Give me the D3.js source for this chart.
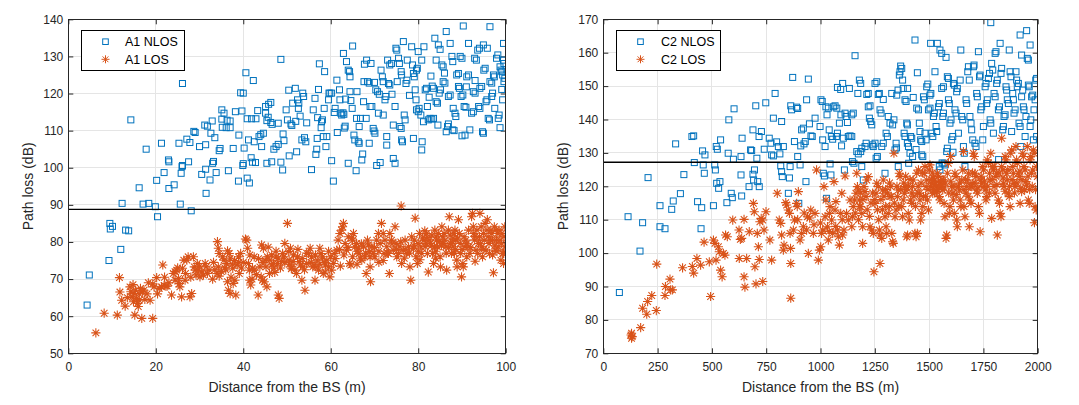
<!DOCTYPE html>
<html><head><meta charset="utf-8">
<script src="https://cdn.jsdelivr.net/npm/d3@7"></script>
<style>body{margin:0;background:#fff}svg{display:block}text{font-family:"Liberation Sans",Arial,sans-serif}</style>
</head><body><svg id="c" width="1079" height="405"></svg>
<script>
// ---------- data ----------
const a1XTicks=[0,20,40,60,80,100];
const a1YTicks=[50,60,70,80,90,100,110,120,130,140];
const c2XTicks=[0,250,500,750,1000,1250,1500,1750,2000];
const c2YTicks=[70,80,90,100,110,120,130,140,150,160,170];
const a1Threshold=88.8, c2Threshold=127.2;
const a1Labels=["A1 NLOS","A1 LOS"], c2Labels=["C2 NLOS","C2 LOS"];

const a1Nlos=[[4.3,63.0],[4.8,71.1],[9.3,75.0],[9.5,85.0],[9.6,83.5],[10.1,84.2],[13.1,83.2],[13.8,83.0],[12.0,78.0],[12.3,90.4],[14.3,112.9],[16.2,94.6],[17.8,105.0],[17.1,90.2],[18.4,90.4],[19.9,89.5],[20.4,86.8],[20.2,96.6],[21.3,106.6],[21.9,98.7],[22.9,102.1],[23.0,101.6],[23.0,94.4],[24.2,95.4],[25.3,106.6],[25.6,90.2],[25.8,98.5],[26.0,100.3],[26.1,100.6],[26.1,122.7],[27.1,107.7],[27.5,101.6],[27.8,106.8],[28.1,88.4],[28.7,109.8],[29.0,109.5],[30.5,98.2],[30.0,105.7],[31.4,99.6],[31.5,93.1],[31.2,111.5],[31.8,111.2],[31.4,106.2],[32.4,96.7],[32.6,109.3],[32.9,112.6],[33.0,101.2],[33.2,101.7],[33.5,108.1],[33.8,98.7],[34.5,104.6],[34.7,105.2],[35.1,113.1],[35.2,110.9],[35.1,115.6],[35.6,114.7],[36.1,110.8],[37.0,110.8],[36.3,112.8],[37.0,112.6],[36.6,99.2],[37.7,105.2],[38.2,115.1],[38.9,96.4],[39.0,108.8],[39.4,120.2],[40.0,120.1],[39.7,115.3],[39.9,100.6],[40.0,101.1],[40.2,105.3],[40.6,125.6],[40.9,97.2],[40.9,113.2],[41.9,113.2],[42.9,113.2],[41.2,107.5],[41.4,95.9],[41.8,102.7],[42.1,101.5],[42.3,123.5],[42.5,107.0],[42.8,101.4],[43.3,115.4],[43.6,108.4],[44.0,108.9],[44.2,105.7],[44.6,109.3],[45.1,116.5],[45.1,114.7],[45.4,112.7],[45.7,113.6],[45.4,101.2],[45.8,117.1],[46.3,117.6],[46.3,112.2],[46.6,111.7],[46.5,101.6],[47.0,105.0],[47.5,105.7],[48.0,106.3],[48.6,129.2],[48.6,101.5],[49.0,99.4],[49.1,109.1],[49.3,107.3],[49.8,115.6],[50.1,112.9],[50.4,120.9],[50.5,103.2],[50.9,111.8],[51.1,111.4],[51.3,117.4],[51.9,121.4],[52.2,104.3],[52.4,118.3],[52.7,117.4],[52.6,116.0],[53.0,113.9],[53.4,107.5],[53.6,120.1],[53.8,119.2],[54.0,108.1],[54.3,107.0],[54.5,112.1],[55.6,99.5],[56.0,115.6],[56.4,118.7],[56.6,103.6],[56.8,105.0],[56.9,107.9],[57.2,121.1],[57.4,128.0],[57.8,110.8],[57.9,112.4],[58.1,112.9],[58.3,108.4],[58.5,116.0],[58.6,125.9],[58.9,105.7],[59.1,108.4],[59.5,118.3],[59.6,120.1],[59.8,120.1],[60.2,120.1],[60.2,101.9],[60.6,96.4],[60.8,114.9],[61.4,123.6],[61.5,109.5],[62.0,121.0],[62.1,118.3],[62.3,114.7],[62.5,114.2],[62.8,114.8],[63.0,114.4],[62.9,130.8],[63.1,110.7],[63.3,111.2],[63.4,118.5],[63.6,128.6],[64.0,126.3],[64.3,125.9],[64.0,101.2],[64.4,124.5],[64.4,120.5],[64.6,118.1],[64.9,116.0],[65.0,132.8],[65.3,108.8],[65.5,107.5],[65.8,99.2],[65.9,113.3],[66.3,107.0],[66.5,106.6],[66.5,111.1],[66.8,113.3],[67.1,102.1],[67.3,103.7],[67.5,117.8],[67.6,123.2],[67.7,127.9],[68.1,113.3],[68.2,129.0],[68.4,123.2],[68.8,122.8],[68.8,106.6],[69.0,116.5],[69.4,116.5],[69.2,128.1],[69.7,110.6],[69.9,109.9],[70.1,109.3],[70.3,121.0],[70.7,120.5],[70.5,100.6],[70.9,114.7],[71.1,119.8],[71.3,101.4],[71.5,126.3],[71.8,124.5],[72.0,123.2],[72.0,114.2],[72.4,118.3],[72.6,119.2],[72.8,108.4],[72.8,106.1],[73.0,129.0],[73.2,122.7],[73.5,122.3],[73.5,127.7],[73.9,128.1],[74.3,111.5],[74.3,102.5],[74.7,101.2],[74.7,116.5],[74.9,132.2],[75.1,131.7],[75.2,123.2],[75.5,129.5],[75.7,128.1],[75.8,111.1],[76.1,110.6],[76.2,107.5],[76.4,107.0],[76.1,125.9],[76.2,125.0],[76.6,134.0],[76.8,114.2],[77.0,112.9],[77.2,122.7],[77.4,123.6],[77.5,129.0],[78.5,132.6],[78.7,127.7],[78.9,125.4],[79.1,124.5],[78.9,107.9],[79.3,121.0],[79.5,118.3],[79.6,126.3],[79.8,126.8],[79.6,115.6],[80.0,115.1],[80.2,116.0],[80.0,131.3],[80.6,114.2],[80.8,129.0],[80.9,107.0],[80.8,104.8],[81.2,112.4],[81.3,132.6],[81.6,121.0],[81.9,121.4],[82.1,116.5],[82.3,112.9],[82.7,113.3],[83.1,113.1],[83.5,113.3],[82.9,124.7],[83.2,122.0],[83.5,121.4],[83.8,134.9],[84.1,129.0],[84.1,117.8],[84.4,117.4],[84.6,133.1],[85.0,131.9],[84.8,120.1],[85.1,121.0],[85.4,127.7],[85.7,127.2],[85.7,123.2],[86.1,122.8],[86.4,136.7],[86.4,109.7],[86.7,111.1],[86.9,111.8],[86.9,119.2],[87.3,119.6],[87.3,133.5],[87.7,130.0],[87.9,128.6],[87.9,110.2],[88.2,110.0],[88.4,114.7],[88.6,113.8],[88.8,125.0],[89.2,125.4],[89.2,121.9],[89.4,121.4],[89.6,130.0],[90.0,129.5],[89.8,119.2],[90.2,119.6],[90.0,108.6],[90.3,138.2],[90.5,116.5],[90.9,116.3],[90.7,108.8],[91.1,124.5],[91.5,125.0],[91.5,133.5],[91.8,110.2],[92.2,114.7],[92.6,115.1],[92.6,120.5],[93.0,120.1],[92.9,129.5],[93.3,129.0],[93.6,131.7],[94.0,132.2],[93.8,116.5],[94.1,116.0],[94.1,121.4],[94.5,121.9],[94.7,109.7],[94.9,109.3],[94.9,133.1],[95.0,126.3],[95.3,126.8],[95.5,117.8],[95.7,118.3],[95.8,132.2],[96.0,113.3],[96.3,112.9],[96.4,138.0],[96.4,123.2],[96.8,122.8],[96.8,119.2],[97.0,120.1],[97.2,125.0],[97.4,124.5],[97.9,129.5],[98.2,130.4],[98.3,113.3],[98.5,114.2],[98.7,110.8],[98.7,127.2],[98.9,126.3],[99.1,125.9],[99.3,125.0],[99.1,121.1],[99.3,118.3],[99.5,129.0],[99.6,128.1],[99.5,133.5],[99.6,123.2],[99.8,124.1],[82.5,119.0],[86.0,125.5],[91.0,121.8],[93.0,123.5],[97.5,116.0],[88.0,116.0],[84.5,111.5],[78.0,119.5],[74.0,119.8],[70.0,123.0],[66.0,120.5],[61.0,116.0],[57.0,113.5],[52.0,112.5],[48.0,112.0]];

const a1Los=[[6.3,55.5],[8.2,60.8],[11.2,60.3],[11.7,70.4],[11.8,66.5],[12.2,64.3],[13.0,62.7],[14.1,67.9],[14.3,66.6],[14.6,65.2],[14.9,63.9],[15.0,66.1],[15.2,60.3],[15.4,67.0],[15.6,64.8],[15.8,63.4],[16.0,62.6],[16.2,64.3],[16.2,66.0],[16.8,59.4],[17.0,66.6],[17.3,67.0],[18.3,69.0],[18.7,64.3],[19.3,59.4],[19.3,68.7],[19.6,67.9],[20.2,70.4],[20.4,66.0],[20.8,67.5],[21.3,67.9],[21.6,73.8],[21.9,68.3],[22.3,68.1],[22.6,68.1],[23.6,65.7],[24.0,71.5],[24.4,72.0],[24.4,69.7],[24.8,72.4],[25.2,70.2],[25.4,68.8],[25.5,67.9],[25.9,65.2],[26.1,72.9],[26.4,75.1],[26.7,69.7],[27.1,75.1],[27.4,76.0],[27.8,65.2],[28.2,66.1],[28.6,76.0],[28.8,73.3],[29.0,72.4],[29.2,71.1],[29.5,74.2],[29.8,72.4],[30.1,70.6],[30.5,71.9],[30.9,71.1],[31.3,74.2],[31.5,73.3],[31.8,71.5],[32.2,72.4],[34.1,80.1],[34.3,78.3],[34.5,76.9],[34.3,73.3],[34.5,70.8],[35.3,76.0],[35.6,75.1],[36.2,74.2],[36.4,77.6],[36.8,76.9],[37.0,75.6],[36.6,67.0],[37.0,66.1],[36.4,69.3],[37.6,72.9],[37.7,68.8],[38.1,69.7],[38.3,65.7],[38.6,73.8],[38.9,76.0],[39.1,71.5],[39.4,76.9],[40.5,80.8],[40.8,80.5],[41.0,78.3],[41.2,74.2],[41.4,72.4],[41.5,69.7],[41.7,68.4],[42.1,72.9],[42.5,72.4],[43.4,65.7],[43.8,73.3],[44.1,70.6],[44.2,79.2],[44.6,78.3],[44.4,69.7],[44.8,69.3],[45.0,75.1],[45.2,73.3],[45.4,67.9],[45.7,78.6],[46.1,75.1],[46.5,73.8],[46.9,74.2],[47.0,72.9],[47.5,76.0],[47.8,74.2],[48.0,75.6],[48.0,65.7],[48.2,64.8],[48.8,74.7],[49.0,76.9],[49.3,76.0],[49.5,79.6],[50.1,85.0],[50.3,77.4],[50.5,75.1],[50.8,78.3],[51.1,73.3],[51.4,74.7],[51.8,72.4],[52.2,71.5],[52.4,76.0],[52.8,74.7],[53.1,73.8],[53.4,69.7],[53.6,73.3],[54.1,67.0],[54.5,74.2],[54.9,76.9],[55.3,78.3],[55.6,76.0],[55.9,73.3],[56.2,73.8],[56.4,69.7],[56.6,73.3],[56.9,75.1],[57.2,72.4],[57.5,78.3],[57.8,76.9],[58.1,76.0],[58.3,71.5],[58.7,71.9],[59.1,75.1],[59.5,73.3],[59.8,70.6],[60.2,72.4],[60.6,74.2],[60.8,76.9],[61.4,77.8],[61.7,80.5],[62.1,82.3],[62.5,83.2],[62.7,84.1],[62.9,85.0],[63.3,79.6],[63.6,77.8],[64.0,81.4],[64.3,74.2],[64.6,73.8],[64.8,81.0],[65.0,80.5],[65.2,82.3],[65.5,78.7],[65.9,79.6],[66.3,78.3],[66.5,76.9],[66.8,75.6],[67.1,75.1],[67.5,78.7],[67.8,76.0],[68.1,71.5],[68.4,80.5],[68.6,79.2],[68.8,77.4],[69.0,73.3],[69.1,69.3],[69.4,78.7],[69.7,76.9],[70.1,76.0],[70.5,80.5],[70.9,82.3],[71.3,79.6],[71.6,85.0],[72.0,82.3],[72.2,76.9],[72.4,80.5],[72.8,78.7],[73.2,76.9],[73.4,71.5],[73.5,82.3],[73.9,80.5],[74.3,77.8],[74.7,84.1],[74.9,79.6],[75.1,76.0],[75.5,76.9],[75.8,78.7],[76.1,89.7],[76.2,74.2],[76.6,77.8],[77.0,80.5],[77.4,76.9],[77.8,78.7],[78.1,73.3],[78.3,69.7],[78.5,81.4],[78.9,78.3],[79.1,80.5],[79.3,86.4],[79.5,76.0],[79.8,74.2],[80.0,79.6],[80.3,82.3],[80.6,78.7],[80.8,76.9],[81.0,81.0],[81.3,80.5],[81.6,78.7],[81.8,79.6],[81.9,82.3],[82.1,76.9],[82.3,71.9],[82.5,80.5],[82.8,79.6],[83.1,81.8],[83.3,76.9],[83.5,74.2],[83.7,78.7],[83.8,83.2],[84.1,81.4],[84.2,80.5],[84.4,78.7],[84.6,82.3],[84.8,80.1],[85.0,76.0],[85.1,73.3],[85.4,84.1],[85.6,81.4],[85.7,79.6],[85.9,82.3],[86.1,80.5],[86.3,78.7],[86.5,72.4],[86.9,83.2],[87.1,86.8],[87.3,81.8],[87.4,79.6],[87.6,76.9],[87.9,81.0],[88.0,78.7],[88.2,82.3],[88.4,83.2],[88.6,80.5],[88.8,75.1],[88.9,73.3],[89.2,86.0],[89.4,82.3],[89.6,79.6],[89.7,76.9],[89.9,70.6],[90.2,74.2],[90.3,73.3],[90.5,81.4],[90.7,78.7],[90.9,80.5],[91.1,76.0],[91.5,83.2],[91.6,78.7],[91.8,76.9],[92.2,86.8],[92.4,87.7],[92.6,84.1],[92.7,82.3],[92.9,80.5],[93.2,77.8],[93.4,83.2],[93.6,76.9],[93.8,79.6],[94.0,81.4],[94.1,87.7],[94.4,84.1],[94.5,78.7],[94.7,76.0],[94.9,82.3],[95.1,80.5],[95.3,85.0],[95.5,77.8],[95.7,83.2],[95.8,86.0],[96.0,81.4],[96.2,79.6],[96.3,76.9],[96.6,83.2],[96.8,82.3],[97.0,80.5],[97.2,71.7],[97.4,84.1],[97.6,77.8],[97.8,83.2],[97.9,80.5],[98.2,82.3],[98.3,78.7],[98.5,83.2],[98.7,80.5],[98.9,75.1],[99.1,82.3],[99.3,76.9],[99.5,74.2],[99.6,81.4],[99.8,78.7],[99.8,84.1],[97.0,76.5],[93.0,74.8],[88.3,77.0],[84.0,75.6],[80.4,75.2],[76.8,75.6],[71.0,74.5],[66.0,74.0],[62.2,73.5],[58.8,73.8],[54.0,72.5],[51.0,72.8],[47.2,71.8],[43.0,71.2],[39.6,73.0],[35.8,73.0],[33.2,74.5],
[81.5,83.0],[82.0,81.2],[83.0,79.0],[84.0,77.5],[85.3,79.0],[86.4,77.0],[87.0,78.5],[87.8,80.0],[88.5,78.0],[89.0,81.0],[90.0,78.0],[91.0,79.5],[92.0,78.5],[93.0,81.5],[94.2,79.5],[95.0,78.0],[96.5,80.5],[97.5,79.0],[98.0,77.5],[99.0,79.5],[99.5,77.0],[80.0,77.5],[79.0,79.0],[78.0,77.0],[77.0,78.0],[76.0,80.0],[75.0,78.0],[74.0,79.5],[73.0,77.0],[72.0,75.0],[71.0,77.5],[70.0,78.5],[69.0,76.0],[68.0,77.0],[67.0,79.5],[66.0,77.5],[65.0,76.0],[64.0,78.5],[63.0,76.5],[62.0,78.0],[61.0,75.5],[60.0,76.0],[59.5,77.5],[58.5,74.5],[57.5,74.0],[56.5,76.5],[55.5,74.5],[54.5,77.0],[53.5,75.5],[52.5,78.0],[51.5,76.5],[50.5,74.0],[49.5,74.5],[48.5,73.0],[47.5,77.5],[46.5,76.5],[45.5,76.0],[44.5,74.5],[43.5,75.5],[42.5,76.0],[41.5,76.5],[40.0,74.5],[39.0,74.5],[38.0,75.0],[37.5,74.0],[36.0,72.5],[35.0,72.0],[34.0,71.5],[33.5,72.5],[30.0,73.5],[28.0,70.5],[26.8,71.5],[25.0,73.0],[23.0,69.0],[22.0,70.5],[18.0,66.0],[17.5,64.5],[16.5,67.5],[14.8,68.5],[13.5,65.0],[33.0,70.0],[37.2,70.5],[42.0,70.0],[46.0,71.5]];

const c2Nlos=[[74,88.2],[114,110.9],[169,100.6],[181,109.1],[206,122.6],[261,114.2],[261,107.9],[284,107.3],[315,113.1],[322,115.6],[333,132.7],[355,117.8],[371,123.5],[408,134.9],[416,135.1],[419,127.1],[434,115.4],[453,113.6],[450,107.3],[457,130.6],[460,126.4],[465,123.9],[468,129.4],[507,114.2],[513,126.4],[516,124.9],[520,131.9],[525,131.1],[522,120.9],[531,119.4],[537,121.4],[540,133.9],[569,115.1],[575,129.9],[578,139.9],[589,117.9],[594,116.6],[599,128.1],[602,143.2],[637,117.1],[639,134.4],[634,128.9],[634,123.4],[671,119.9],[678,130.9],[683,130.7],[689,136.9],[689,123.6],[696,124.9],[692,121.9],[702,144.1],[707,128.4],[711,121.4],[718,119.9],[717,134.9],[728,136.4],[741,131.1],[748,145.0],[764,134.4],[772,132.9],[775,129.4],[783,129.1],[783,140.4],[791,147.8],[798,133.3],[806,131.9],[813,129.7],[821,139.4],[817,126.1],[821,124.4],[824,122.9],[829,131.9],[852,117.9],[857,122.5],[860,125.9],[863,144.1],[867,142.9],[872,152.6],[880,133.4],[890,143.7],[895,143.3],[895,128.9],[900,114.9],[906,126.4],[909,132.1],[913,136.9],[921,137.4],[924,132.7],[930,133.4],[933,121.4],[936,145.9],[944,152.1],[949,138.7],[956,135.1],[962,134.9],[975,140.4],[998,137.9],[1002,145.9],[1008,145.4],[1010,133.9],[1013,123.9],[1018,123.1],[1021,131.9],[1025,143.8],[1030,141.4],[1036,143.4],[1028,116.4],[1040,136.9],[1044,126.7],[1048,123.4],[1050,134.9],[1056,134.1],[1059,143.8],[1067,144.1],[1075,143.4],[1073,134.9],[1078,135.9],[1078,149.6],[1087,138.9],[1094,141.4],[1093,149.0],[1102,150.8],[1097,132.1],[1105,134.4],[1110,124.9],[1113,141.9],[1118,140.9],[1124,139.1],[1128,134.9],[1133,149.3],[1136,135.1],[1144,134.9],[1144,141.4],[1151,141.9],[1147,127.4],[1154,126.9],[1159,159.1],[1167,130.4],[1174,129.7],[1172,147.8],[1179,151.8],[1185,150.8],[1185,130.4],[1190,131.4],[1190,125.9],[1197,121.9],[1205,131.9],[1210,132.9],[1213,147.5],[1220,147.8],[1220,143.8],[1228,144.1],[1225,140.4],[1231,139.4],[1236,138.4],[1240,132.4],[1243,131.9],[1251,132.9],[1251,150.8],[1259,151.3],[1256,128.4],[1262,128.9],[1266,147.5],[1271,147.8],[1274,142.9],[1279,141.9],[1282,131.9],[1289,132.9],[1289,146.0],[1297,123.9],[1302,135.9],[1308,134.9],[1312,140.9],[1320,138.9],[1328,147.8],[1332,138.4],[1338,139.9],[1343,130.9],[1348,132.9],[1351,147.3],[1357,148.8],[1358,125.9],[1363,153.3],[1366,154.3],[1369,156.0],[1374,155.3],[1378,151.8],[1381,149.3],[1385,135.9],[1389,134.9],[1389,145.9],[1394,145.4],[1397,138.9],[1400,138.4],[1400,132.9],[1405,131.9],[1401,149.3],[1406,126.9],[1412,129.9],[1415,134.9],[1420,134.4],[1424,128.9],[1427,146.6],[1435,163.8],[1443,143.4],[1451,142.9],[1446,154.0],[1455,138.9],[1458,136.4],[1461,133.9],[1466,133.4],[1466,129.4],[1471,128.9],[1474,146.8],[1478,145.9],[1481,135.9],[1486,133.9],[1489,149.8],[1494,150.6],[1497,142.9],[1504,143.4],[1504,147.3],[1508,147.8],[1507,162.8],[1512,135.9],[1517,134.9],[1520,140.9],[1524,141.9],[1527,154.3],[1532,137.9],[1535,136.4],[1538,162.8],[1543,143.8],[1547,144.8],[1547,125.9],[1550,124.9],[1550,160.8],[1558,159.8],[1558,149.3],[1566,149.8],[1563,140.9],[1566,141.9],[1569,126.9],[1573,126.4],[1578,158.6],[1581,130.4],[1584,131.4],[1584,152.8],[1589,152.3],[1589,145.9],[1593,144.8],[1596,138.9],[1601,139.9],[1604,133.9],[1609,134.9],[1612,150.8],[1616,150.3],[1619,142.9],[1624,141.9],[1627,148.3],[1630,149.3],[1635,135.9],[1643,151.8],[1646,160.8],[1650,140.9],[1655,139.9],[1658,131.9],[1662,129.9],[1665,125.9],[1670,145.9],[1673,144.8],[1678,154.3],[1681,155.8],[1685,151.8],[1688,140.9],[1693,138.9],[1696,136.9],[1701,133.9],[1704,155.8],[1707,156.3],[1711,132.9],[1716,131.9],[1719,147.8],[1722,146.8],[1727,160.3],[1732,152.8],[1735,153.3],[1738,142.9],[1742,143.8],[1747,133.9],[1750,137.9],[1758,149.8],[1762,150.8],[1765,144.8],[1768,145.9],[1773,152.3],[1778,153.8],[1781,139.9],[1784,138.9],[1784,169.0],[1788,156.8],[1793,154.8],[1796,135.9],[1799,147.8],[1804,146.8],[1804,159.8],[1808,160.3],[1811,150.8],[1814,151.8],[1819,142.9],[1824,143.8],[1827,162.8],[1831,153.8],[1834,155.3],[1839,136.9],[1842,137.9],[1845,140.9],[1850,141.4],[1854,149.8],[1857,148.8],[1860,145.9],[1865,144.8],[1869,160.8],[1873,154.3],[1877,152.8],[1880,136.4],[1885,147.8],[1888,145.9],[1891,141.9],[1896,142.9],[1900,154.3],[1903,151.8],[1906,149.8],[1911,150.8],[1914,138.9],[1919,137.9],[1919,165.3],[1922,131.9],[1926,159.3],[1926,146.8],[1931,148.8],[1934,143.8],[1937,142.9],[1942,134.9],[1946,140.9],[1949,166.6],[1952,158.3],[1957,157.8],[1957,150.3],[1961,149.8],[1965,162.3],[1965,137.9],[1968,139.9],[1972,146.8],[1977,147.3],[1980,133.9],[1983,142.9],[1988,145.9],[1991,151.8],[1995,152.3],[1995,134.9],[1820,128.0],[1610,130.2],[1560,127.0],[1440,131.0],[1350,131.5]];

const c2Los=[[130,76.0],[133,75.0],[130,74.5],[128,75.5],[172,77.7],[181,83.5],[200,81.7],[204,85.5],[223,87.3],[244,82.8],[246,96.7],[284,87.3],[286,90.0],[307,92.2],[310,89.0],[318,89.0],[365,95.6],[410,96.0],[416,94.0],[431,98.4],[448,96.4],[464,103.3],[488,97.4],[494,87.0],[507,103.9],[514,102.9],[519,97.9],[530,101.9],[534,100.4],[540,94.9],[547,92.9],[553,99.9],[560,99.4],[563,105.4],[571,104.9],[596,109.9],[625,106.9],[631,104.1],[637,104.4],[626,98.4],[648,110.1],[648,92.9],[652,89.8],[660,98.4],[672,106.4],[691,114.9],[695,112.4],[698,95.9],[703,90.8],[709,105.9],[714,101.9],[721,109.4],[727,110.4],[734,109.9],[718,98.1],[734,91.5],[740,106.9],[749,112.4],[767,103.9],[775,97.9],[801,117.9],[810,109.9],[817,108.9],[821,105.4],[829,100.9],[832,102.4],[840,115.1],[844,114.4],[852,112.9],[857,111.9],[860,105.9],[862,101.4],[863,96.9],[863,86.5],[875,106.9],[880,109.9],[890,114.9],[893,113.9],[898,118.4],[906,103.9],[913,105.9],[921,107.9],[936,106.9],[940,110.9],[944,99.9],[955,112.9],[967,105.9],[975,111.9],[982,124.9],[990,97.9],[995,100.9],[1001,101.9],[1005,105.9],[1010,106.9],[1016,119.9],[1021,110.9],[1025,115.9],[1032,107.9],[1036,103.9],[1041,111.9],[1044,113.9],[1051,109.9],[1056,105.9],[1062,121.4],[1067,112.9],[1071,115.4],[1078,106.9],[1082,104.9],[1087,102.4],[1093,111.9],[1098,117.9],[1102,105.4],[1108,106.9],[1113,123.1],[1120,111.9],[1128,109.9],[1136,115.9],[1144,107.9],[1148,110.9],[1151,113.9],[1157,115.9],[1163,117.9],[1167,123.9],[1170,119.9],[1174,118.9],[1179,115.9],[1185,113.9],[1190,111.9],[1194,107.9],[1194,102.9],[1200,119.9],[1205,118.4],[1210,116.9],[1213,121.9],[1220,122.9],[1228,107.9],[1236,106.9],[1243,105.9],[1246,94.4],[1251,114.9],[1256,117.9],[1259,120.9],[1266,119.9],[1271,106.9],[1274,105.4],[1282,104.4],[1274,96.9],[1286,118.9],[1289,121.9],[1297,110.9],[1302,107.9],[1305,105.9],[1312,111.9],[1317,113.9],[1320,116.9],[1323,119.9],[1328,105.9],[1332,103.4],[1335,102.9],[1338,129.9],[1343,110.9],[1348,112.9],[1354,116.9],[1358,118.9],[1363,123.9],[1366,122.9],[1374,113.9],[1378,110.9],[1381,115.9],[1386,117.9],[1389,119.9],[1394,118.9],[1397,104.9],[1401,105.4],[1404,111.9],[1409,109.9],[1415,115.9],[1420,114.9],[1424,119.9],[1427,121.9],[1435,105.9],[1440,104.9],[1446,105.9],[1443,123.9],[1451,124.9],[1455,117.9],[1458,115.9],[1461,109.9],[1466,111.9],[1471,113.9],[1474,116.9],[1477,123.9],[1481,125.9],[1486,119.9],[1489,121.9],[1492,115.9],[1497,112.9],[1501,124.9],[1504,126.4],[1507,119.9],[1512,120.9],[1517,117.9],[1520,118.9],[1523,121.9],[1527,120.4],[1532,119.9],[1535,118.4],[1538,123.9],[1543,122.9],[1547,116.9],[1550,115.9],[1553,121.4],[1558,119.9],[1563,118.9],[1566,121.9],[1569,114.9],[1573,110.9],[1578,104.4],[1581,105.4],[1584,123.9],[1589,126.9],[1593,111.9],[1596,113.9],[1599,128.9],[1604,119.9],[1609,117.9],[1612,115.9],[1616,111.9],[1619,123.9],[1624,122.9],[1627,109.9],[1630,107.9],[1635,119.9],[1639,118.9],[1643,115.9],[1646,113.9],[1650,121.9],[1655,124.9],[1658,130.4],[1661,113.9],[1665,110.9],[1670,117.9],[1673,119.9],[1676,121.9],[1681,123.9],[1685,107.9],[1688,115.9],[1693,114.9],[1696,119.9],[1701,120.9],[1704,129.9],[1708,128.9],[1711,123.9],[1716,122.9],[1719,118.9],[1722,117.9],[1727,113.9],[1732,111.9],[1735,106.4],[1738,121.9],[1742,120.9],[1747,125.9],[1750,124.9],[1753,119.9],[1758,118.9],[1762,115.9],[1765,116.9],[1768,127.9],[1773,126.9],[1778,123.9],[1781,121.9],[1784,129.9],[1788,110.4],[1793,125.9],[1796,124.9],[1799,119.9],[1804,117.9],[1808,122.9],[1811,123.9],[1814,105.4],[1819,115.9],[1824,114.9],[1827,111.9],[1831,110.9],[1834,134.4],[1834,125.9],[1839,124.9],[1842,120.9],[1845,119.9],[1850,128.9],[1854,127.9],[1857,123.9],[1860,121.9],[1865,117.9],[1869,116.9],[1873,113.9],[1876,129.9],[1880,130.9],[1885,125.9],[1888,123.9],[1891,120.9],[1896,119.9],[1900,131.9],[1903,127.9],[1906,126.9],[1911,123.9],[1915,122.9],[1919,114.9],[1922,119.4],[1926,118.4],[1931,129.9],[1934,128.9],[1937,125.9],[1942,124.9],[1946,121.4],[1949,120.4],[1952,131.9],[1957,115.9],[1961,114.9],[1965,127.9],[1968,128.9],[1972,123.9],[1977,124.9],[1980,130.9],[1983,129.9],[1985,109.1],[1988,113.9],[1993,112.9],[1995,125.9],[1998,122.9],[1530,121.0],[1540,119.0],[1555,120.5],[1520,122.5],[1570,119.5],[1250,116.0],[1300,119.0],[1180,114.0],[1420,118.0],[1450,120.0],
[1160,112.0],[1175,110.0],[1185,118.0],[1195,116.0],[1215,113.0],[1225,111.0],[1232,115.0],[1240,118.0],[1262,113.0],[1268,110.0],[1278,116.0],[1285,113.0],[1292,117.0],[1300,114.0],[1308,118.0],[1318,121.0],[1326,117.0],[1340,115.0],[1352,120.0],[1360,114.0],[1370,119.0],[1383,121.0],[1392,123.0],[1405,120.0],[1412,122.0],[1430,117.0],[1437,114.0],[1448,118.0],[1463,121.0],[1470,124.0],[1484,117.0],[1495,119.0],[1510,122.0],[1515,124.0],[1525,118.0],[1545,120.0],[1560,122.0],[1575,121.0],[1590,118.0],[1600,121.5],[1615,120.0],[1625,117.5],[1640,121.0],[1660,119.0],[1668,122.0],[1680,117.0],[1690,120.0],[1700,124.0],[1712,121.0],[1725,119.5],[1740,123.0],[1755,121.5],[1770,120.0],[1778,118.0],[1790,122.0],[1800,126.0],[1812,120.5],[1822,124.0],[1840,122.5],[1850,118.5],[1862,125.0],[1870,120.0],[1882,122.0],[1893,118.0],[1905,121.0],[1918,124.5],[1928,122.0],[1940,119.0],[1955,123.0],[1963,119.0],[1975,120.0],[1990,119.0],[1100,110.0],[1070,108.0],[1040,106.5],[1000,109.0],[970,108.5],[950,110.5],[925,112.0],[895,110.0]];

// ---------- drawing ----------
const svg=d3.select("#c");
const BLUE="#0072BD", ORANGE="#D95319", AX="#262626", GRID="#e5e5e5";

function starPath(r){const q=r*0.72;return `M${-r},0L${r},0M0,${-r}L0,${r}M${-q},${-q}L${q},${q}M${-q},${q}L${q},${-q}`;}

function panel(o){
  const g=svg.append("g");
  const x=d3.scaleLinear().domain(o.xDom).range([o.left,o.right]);
  const y=d3.scaleLinear().domain(o.yDom).range([o.bottom,o.top]);
  const id="clip"+o.id;
  svg.append("clipPath").attr("id",id).append("rect")
    .attr("x",o.left).attr("y",o.top).attr("width",o.right-o.left).attr("height",o.bottom-o.top);
  g.append("g").selectAll("line").data(o.xTicks).join("line")
    .attr("x1",d=>x(d)).attr("x2",d=>x(d)).attr("y1",o.top).attr("y2",o.bottom)
    .attr("stroke",GRID).attr("stroke-width",1).attr("shape-rendering","crispEdges");
  g.append("g").selectAll("line").data(o.yTicks).join("line")
    .attr("y1",d=>y(d)).attr("y2",d=>y(d)).attr("x1",o.left).attr("x2",o.right)
    .attr("stroke",GRID).attr("stroke-width",1).attr("shape-rendering","crispEdges");
  const fmt=d=>String(d);
  const xa=g.append("g").attr("transform",`translate(0,${o.bottom})`)
    .call(d3.axisBottom(x).tickValues(o.xTicks).tickFormat(fmt).tickSizeInner(-5).tickSizeOuter(0).tickPadding(9));
  const xt=g.append("g").attr("transform",`translate(0,${o.top})`)
    .call(d3.axisTop(x).tickValues(o.xTicks).tickFormat("").tickSizeInner(-5).tickSizeOuter(0));
  const ya=g.append("g").attr("transform",`translate(${o.left},0)`)
    .call(d3.axisLeft(y).tickValues(o.yTicks).tickFormat(fmt).tickSizeInner(-5).tickSizeOuter(0).tickPadding(5));
  const yr=g.append("g").attr("transform",`translate(${o.right},0)`)
    .call(d3.axisRight(y).tickValues(o.yTicks).tickFormat("").tickSizeInner(-5).tickSizeOuter(0));
  [xa,xt,ya,yr].forEach(a=>{a.select(".domain").remove();a.selectAll("line").attr("stroke",AX);
    a.selectAll("text").attr("fill",AX).style("font-size","12px").style("font-family","'Liberation Sans',Arial,sans-serif");});
  const pg=g.append("g").attr("clip-path",`url(#${id})`);
  pg.selectAll("rect.n").data(o.nlos).join("rect").attr("class","n")
    .attr("x",d=>x(d[0])-3).attr("y",d=>y(d[1])-3).attr("width",6).attr("height",6)
    .attr("fill","none").attr("stroke",BLUE).attr("stroke-width",1);
  pg.selectAll("path.l").data(o.los).join("path").attr("class","l")
    .attr("transform",d=>`translate(${x(d[0])},${y(d[1])})`).attr("d",starPath(4.6))
    .attr("fill","none").attr("stroke",ORANGE).attr("stroke-width",1.1);
  g.append("line").attr("x1",o.left).attr("x2",o.right).attr("y1",y(o.thr)).attr("y2",y(o.thr))
    .attr("stroke","#000").attr("stroke-width",1.3);
  g.append("rect").attr("x",o.left).attr("y",o.top).attr("width",o.right-o.left).attr("height",o.bottom-o.top)
    .attr("fill","none").attr("stroke",AX).attr("stroke-width",1).attr("shape-rendering","crispEdges");
  g.append("text").attr("x",(o.left+o.right)/2).attr("y",392).attr("text-anchor","middle")
    .style("font-size","14px").attr("fill",AX).text("Distance from the BS (m)");
  g.append("text").attr("transform",`translate(${o.ylabX},${(o.top+o.bottom)/2}) rotate(-90)`)
    .attr("text-anchor","middle").style("font-size","14px").attr("fill",AX).text("Path loss (dB)");
  const L=o.legend;
  g.append("rect").attr("x",L.x).attr("y",L.y).attr("width",L.w).attr("height",L.h)
    .attr("fill","#fff").attr("stroke","#000").attr("stroke-width",1).attr("shape-rendering","crispEdges");
  g.append("rect").attr("x",L.mx-2.8).attr("y",L.y+11.7-2.8).attr("width",5.6).attr("height",5.6)
    .attr("fill","none").attr("stroke",BLUE);
  g.append("path").attr("transform",`translate(${L.mx},${L.y+29.3})`).attr("d",starPath(4))
    .attr("fill","none").attr("stroke",ORANGE);
  g.append("text").attr("x",L.tx).attr("y",L.y+16).style("font-size","12.5px").attr("fill","#000").text(o.labels[0]);
  g.append("text").attr("x",L.tx).attr("y",L.y+34).style("font-size","12.5px").attr("fill","#000").text(o.labels[1]);
}

panel({id:"a",left:68.3,right:505.7,top:19.3,bottom:353.3,xDom:[0,100],yDom:[50,140],
  xTicks:a1XTicks,yTicks:a1YTicks,nlos:a1Nlos,los:a1Los,thr:a1Threshold,labels:a1Labels,ylabX:33,
  legend:{x:81.5,y:30,w:103,h:40,mx:105.5,tx:125}});
panel({id:"c",left:603.3,right:1037.7,top:19.3,bottom:353.3,xDom:[0,2000],yDom:[70,170],
  xTicks:c2XTicks,yTicks:c2YTicks,nlos:c2Nlos,los:c2Los,thr:c2Threshold,labels:c2Labels,ylabX:568,
  legend:{x:616.5,y:30,w:104,h:40,mx:640.5,tx:661}});
</script></body></html>
